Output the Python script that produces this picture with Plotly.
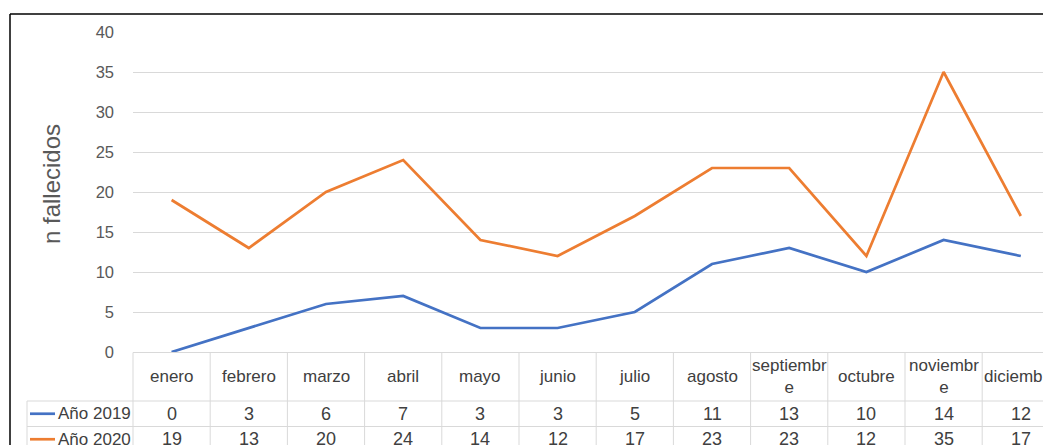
import plotly.graph_objects as go

months = ["enero", "febrero", "marzo", "abril", "mayo", "junio", "julio",
          "agosto", "septiembre", "octubre", "noviembre", "diciembre"]
month_labels = ["enero", "febrero", "marzo", "abril", "mayo", "junio", "julio",
                "agosto", "septiembr<br>e", "octubre", "noviembr<br>e", "diciembre"]
series_names = ["Año 2019", "Año 2020"]
vals_2019 = [0, 3, 6, 7, 3, 3, 5, 11, 13, 10, 14, 12]
vals_2020 = [19, 13, 20, 24, 14, 12, 17, 23, 23, 12, 35, 17]
y_ticks = [0, 5, 10, 15, 20, 25, 30, 35, 40]

colors = ["#4472C4", "#ED7D31"]
grid = "#D9D9D9"
txt = "#595959"
tbl_txt = "#404040"

OFF = 8  # page body margin offset
W, H = 1051, 445
ML, MR, MT = 133 - OFF, 0, 32 - OFF
MB = H - (352 - OFF)
PW = W - ML - MR
PH = H - MT - MB
colw = 77.2
xr = [-0.5, -0.5 + PW / colw]

def px2paper_x(px):
    return (px - OFF - ML) / PW

def py2paper_y(py):
    return (H - MB - (py - OFF)) / PH

def idx2paper(v):
    return (v - xr[0]) / (xr[1] - xr[0])

xs = list(range(len(months)))
fig = go.Figure()
for name, vals, c in zip(series_names, [vals_2019, vals_2020], colors):
    fig.add_trace(go.Scatter(x=xs, y=vals, mode="lines", name=name,
                             line=dict(color=c, width=2.7), showlegend=False))

shapes = []
font_tbl = "Liberation Sans, Arial, sans-serif"
y_head_top, y_head_bot, y_r1, y_r2 = 352.5, 401, 426.5, 452
x_leg = 27
line = dict(color=grid, width=1)
shapes.append(dict(type="line", xref="paper", yref="paper", x0=0, x1=idx2paper(11.5),
                   y0=py2paper_y(y_head_top), y1=py2paper_y(y_head_top), line=line))
for yy in [y_head_bot, y_r1, y_r2]:
    shapes.append(dict(type="line", xref="paper", yref="paper", x0=px2paper_x(x_leg), x1=idx2paper(11.5),
                       y0=py2paper_y(yy), y1=py2paper_y(yy), line=line))
for i in range(13):
    shapes.append(dict(type="line", xref="paper", yref="paper", x0=idx2paper(i - 0.5), x1=idx2paper(i - 0.5),
                       y0=py2paper_y(y_head_top), y1=py2paper_y(y_r2), line=line))
shapes.append(dict(type="line", xref="paper", yref="paper", x0=px2paper_x(x_leg), x1=px2paper_x(x_leg),
                   y0=py2paper_y(y_head_bot), y1=py2paper_y(y_r2), line=line))
# outer border
shapes.append(dict(type="line", xref="paper", yref="paper", x0=px2paper_x(10), x1=px2paper_x(10),
                   y0=py2paper_y(14), y1=py2paper_y(470), line=dict(color="black", width=1.5)))
shapes.append(dict(type="line", xref="paper", yref="paper", x0=px2paper_x(10), x1=px2paper_x(1100),
                   y0=py2paper_y(14), y1=py2paper_y(14), line=dict(color="black", width=1.5)))

annotations = []
for i, lab in enumerate(month_labels):
    annotations.append(dict(x=i, xref="x", y=py2paper_y((y_head_top + y_head_bot) / 2), yref="paper",
                            text=lab, showarrow=False, xanchor="center", yanchor="middle",
                            font=dict(family=font_tbl, size=17, color=tbl_txt)))
for r, (vals, yc) in enumerate(zip([vals_2019, vals_2020],
                                   [(y_head_bot + y_r1) / 2, (y_r1 + y_r2) / 2])):
    for i, v in enumerate(vals):
        annotations.append(dict(x=i, xref="x", y=py2paper_y(yc), yref="paper", text=str(v),
                                showarrow=False, xanchor="center", yanchor="middle",
                                font=dict(family=font_tbl, size=18, color=tbl_txt)))
    shapes.append(dict(type="line", xref="paper", yref="paper", x0=px2paper_x(30), x1=px2paper_x(55),
                       y0=py2paper_y(yc), y1=py2paper_y(yc), line=dict(color=colors[r], width=2.7)))
    annotations.append(dict(x=px2paper_x(56), xref="paper", y=py2paper_y(yc), yref="paper",
                            text=series_names[r], showarrow=False, xanchor="left", yanchor="middle",
                            font=dict(family=font_tbl, size=17, color=tbl_txt)))
annotations.append(dict(x=px2paper_x(51), xref="paper", y=py2paper_y(184), yref="paper",
                        text="n fallecidos", textangle=-90, showarrow=False,
                        xanchor="center", yanchor="middle",
                        font=dict(family="Liberation Sans, Arial, sans-serif", size=24, color=txt)))

fig.update_layout(
    width=W, height=H,
    margin=dict(l=ML, r=MR, t=MT, b=MB),
    paper_bgcolor="white", plot_bgcolor="white",
    shapes=shapes, annotations=annotations,
    xaxis=dict(range=xr, showticklabels=False, showgrid=False, zeroline=False, showline=False,
               fixedrange=True),
    yaxis=dict(range=[0, 40], tickvals=y_ticks, showgrid=True, gridcolor=grid, gridwidth=1,
               zeroline=False, showline=False, ticks="", ticklabelstandoff=18,
               tickfont=dict(family="Liberation Sans, Arial, sans-serif", size=16.5, color=txt)),
)
fig.write_html("out.html")
